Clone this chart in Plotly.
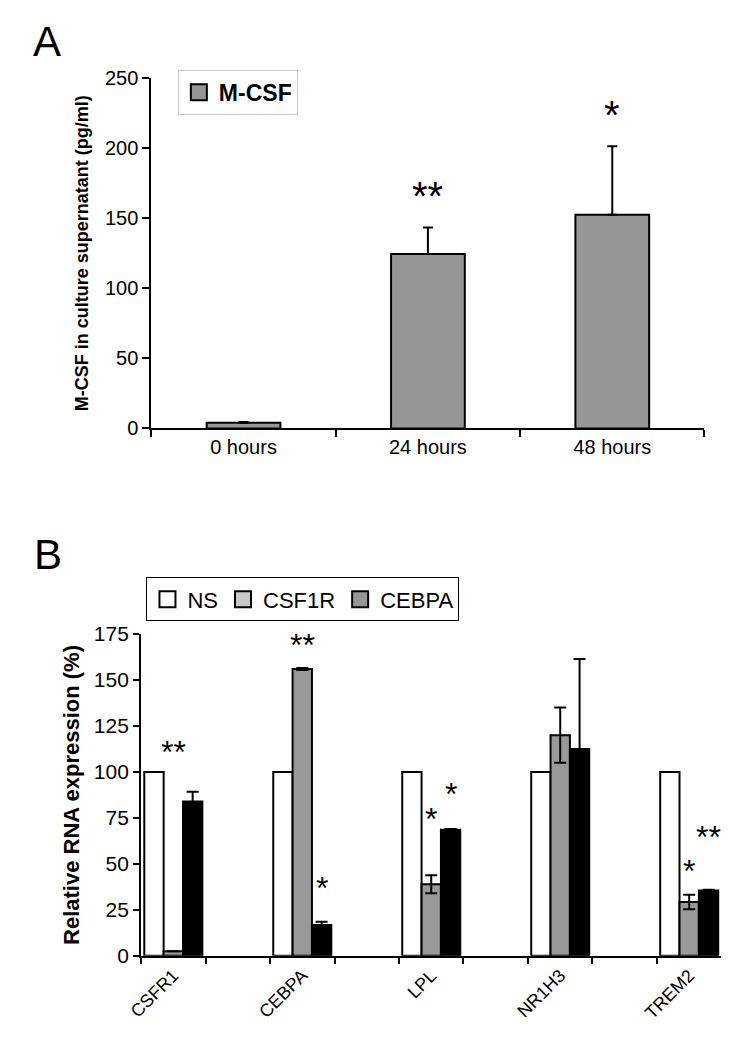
import plotly.graph_objects as go

# ---------------- Panel A data ----------------
timepoints = ["0 hours", "24 hours", "48 hours"]
mcsf = [4, 124.5, 152.5]
mcsf_err = [0.6, 19, 49]
mcsf_sig = ["", "**", "*"]
mcsf_sig_y = [None, 166, 224]

# ---------------- Panel B data ----------------
genes = ["CSFR1", "CEBPA", "LPL", "NR1H3", "TREM2"]
series_names = ["NS", "CSF1R", "CEBPA"]
ns_vals = [100, 100, 100, 100, 100]
csf1r_vals = [2.5, 156, 39, 120, 29.3]
csf1r_err = [0, 0.5, 4.9, 15, 4]
cebpa_vals = [84, 16.8, 68.6, 112.5, 35.6]
cebpa_err = [5.3, 1.8, 0.4, 49, 0.4]
csf1r_sig = ["**", "**", "*", "", "*"]
csf1r_sig_y = [111, 169, 74.5, None, 46]
cebpa_sig = ["", "*", "*", "", "**"]
cebpa_sig_y = [None, 37, 88, None, 64.7]

W, H = 744, 1050
GRAY = "#969696"
FONT = "Liberation Sans, Arial, sans-serif"

fig = go.Figure()

# Panel A bars
fig.add_trace(go.Bar(
    x=timepoints, y=mcsf, width=0.4, offset=-0.2,
    marker=dict(color=GRAY, line=dict(color="black", width=2)),
    error_y=dict(type="data", array=mcsf_err, arrayminus=[0] * len(mcsf_err),
                 symmetric=False, color="black", thickness=2, width=5),
    showlegend=False, xaxis="x", yaxis="y"))

# Panel B bars
cat_array = []
for i, g in enumerate(genes):
    cat_array.append(g)
    if i < len(genes) - 1:
        cat_array.append(" " * (i + 1))

b_series = [
    (ns_vals, None, "white"),
    (csf1r_vals, csf1r_err, "#999999"),
    (cebpa_vals, cebpa_err, "black"),
]
for k, (vals, errs, col) in enumerate(b_series):
    eb = None
    if errs is not None:
        eb = dict(type="data", array=errs, color="black", thickness=2, width=6)
    fig.add_trace(go.Bar(
        x=genes, y=vals, width=0.3, offset=-0.45 + 0.3 * k,
        marker=dict(color=col, line=dict(color="black", width=2)),
        error_y=eb, showlegend=False, xaxis="x2", yaxis="y2"))

# Legend entries
fig.add_trace(go.Scatter(
    x=[None], y=[None], mode="markers", name="M-CSF",
    marker=dict(symbol="square", size=16, color=GRAY, line=dict(color="black", width=2)),
    legend="legend", xaxis="x", yaxis="y"))
leg_cols = ["white", "#c8c8c8", GRAY]
for name, col in zip(series_names, leg_cols):
    fig.add_trace(go.Scatter(
        x=[None], y=[None], mode="markers", name=name,
        marker=dict(symbol="square", size=16, color=col, line=dict(color="black", width=2)),
        legend="legend2", xaxis="x2", yaxis="y2"))

annotations = []
# significance marks panel A
for i, (s, yv) in enumerate(zip(mcsf_sig, mcsf_sig_y)):
    if s:
        annotations.append(dict(x=i, y=yv, xref="x", yref="y", text=s, showarrow=False,
                                font=dict(size=40, family=FONT, color="black"),
                                yanchor="middle"))
# significance marks panel B
for k, (sigs, ys) in enumerate([(csf1r_sig, csf1r_sig_y), (cebpa_sig, cebpa_sig_y)]):
    off = 0.3 * k
    for i, (s, yv) in enumerate(zip(sigs, ys)):
        if s:
            annotations.append(dict(x=2 * i + off, y=yv, xref="x2", yref="y2", text=s,
                                    showarrow=False,
                                    font=dict(size=32, family=FONT, color="black"),
                                    yanchor="middle"))
# panel letters
annotations.append(dict(x=33.5 / W, y=1 - 30.5 / H, xref="paper", yref="paper", text="A",
                        showarrow=False, xanchor="center", yanchor="middle",
                        font=dict(size=42, family=FONT, color="black")))
annotations.append(dict(x=35 / W, y=1 - 554.5 / H, xref="paper", yref="paper", text="B",
                        showarrow=False, xanchor="center", yanchor="middle",
                        font=dict(size=42, family=FONT, color="black")))

fig.update_layout(
    width=W, height=H, autosize=False,
    margin=dict(l=0, r=0, t=0, b=0),
    paper_bgcolor="white", plot_bgcolor="white",
    barmode="overlay",
    font=dict(family=FONT, color="black"),
    annotations=annotations,
    xaxis=dict(domain=[140 / W, 703.7 / W], anchor="y", type="category",
               categoryorder="array", categoryarray=timepoints,
               tickson="boundaries", ticks="outside", ticklen=7, tickwidth=2,
               tickcolor="black", showline=True, linecolor="black", linewidth=2,
               showgrid=False, zeroline=False, range=[-0.5, 2.5],
               tickfont=dict(size=20, family=FONT, color="black")),
    yaxis=dict(domain=[1 - 425.7 / H, 1 - 67.7 / H], anchor="x", range=[0, 250],
               tickvals=[0, 50, 100, 150, 200, 250], ticks="outside", ticklen=7,
               tickwidth=2, tickcolor="black", showline=True, linecolor="black",
               linewidth=2, showgrid=False, zeroline=False,
               tickfont=dict(size=20, family=FONT, color="black"),
               title=dict(text="M-CSF in culture supernatant (pg/ml)", standoff=12,
                          font=dict(size=18, family=FONT, color="black", weight="bold"))),
    xaxis2=dict(domain=[129.5 / W, 721 / W], anchor="y2", type="category",
                categoryorder="array", categoryarray=cat_array,
                tickson="boundaries", ticks="outside", ticklen=6, tickwidth=2,
                tickcolor="black", showline=True, linecolor="black", linewidth=2,
                showgrid=False, zeroline=False, range=[-0.5, 8.5], tickangle=-45,
                tickfont=dict(size=18, family=FONT, color="black")),
    yaxis2=dict(domain=[1 - 965 / H, 1 - 636 / H], anchor="x2", range=[0, 175],
                tickvals=[0, 25, 50, 75, 100, 125, 150, 175], ticks="outside", ticklen=6,
                tickwidth=2, tickcolor="black", showline=True, linecolor="black",
                linewidth=2, showgrid=False, zeroline=False,
                tickfont=dict(size=21, family=FONT, color="black"),
                title=dict(text="Relative RNA expression (%)", standoff=8,
                           font=dict(size=22, family=FONT, color="black", weight="bold"))),
    legend=dict(x=167 / W, y=1 - 59 / H, xanchor="left", yanchor="top",
                bordercolor="#c8c8c8", borderwidth=1, bgcolor="white",
                font=dict(size=23, family=FONT, color="black", weight="bold")),
    legend2=dict(x=135 / W, y=1 - 578 / H, xanchor="left", yanchor="top",
                 orientation="h", bordercolor="black", borderwidth=1, bgcolor="white",
                 font=dict(size=22, family=FONT, color="black")),
)

fig.write_html("out.html",
               config={"displayModeBar": False},
               post_script="document.body.style.margin='0px';"
                           "document.body.style.overflow='hidden';")
